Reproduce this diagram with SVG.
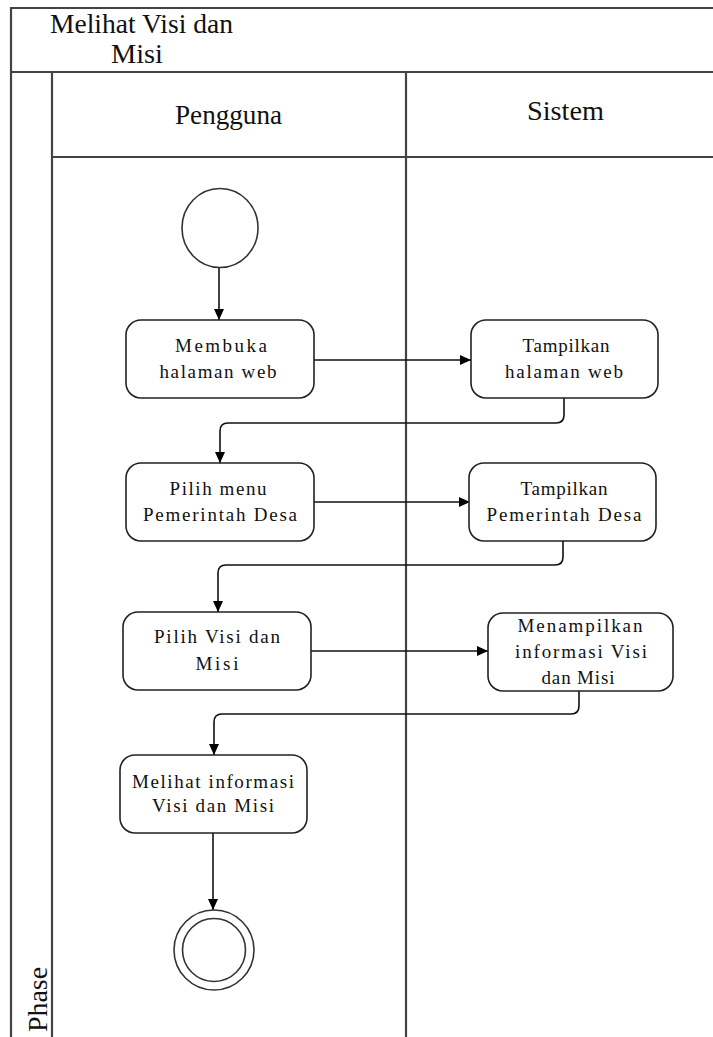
<svg xmlns="http://www.w3.org/2000/svg" width="713" height="1037" viewBox="0 0 713 1037">
<style>
.frame{fill:none;stroke:#444;stroke-width:2.2}
.node rect{fill:#fff;stroke:#222;stroke-width:1.6}
.conn path{fill:none;stroke:#111;stroke-width:1.6;marker-end:url(#arr)}
.ev{fill:#fff;stroke:#333;stroke-width:1.6}
</style>
<defs>
<marker id="arr" markerUnits="userSpaceOnUse" markerWidth="12" markerHeight="10" refX="11" refY="5" orient="auto">
<path d="M0,0 L11,5 L0,10 z" fill="#000"/>
</marker>
</defs>
<rect width="713" height="1037" fill="#fff"/>
<g id="frame">
<path class="frame" d="M11,1037 V8 H713"/>
<path class="frame" d="M11,72 H713"/>
<path class="frame" d="M52,72 V1037"/>
<path class="frame" d="M52,157 H713"/>
<path class="frame" d="M406,72 V1037"/>
</g>
<g id="labels" fill="#111">
<text style="font-family:'Liberation Serif',serif;font-size:27px" x="50" y="33" textLength="183" lengthAdjust="spacingAndGlyphs">Melihat Visi dan</text>
<text style="font-family:'Liberation Serif',serif;font-size:27px" x="111" y="63" textLength="52" lengthAdjust="spacingAndGlyphs">Misi</text>
<text style="font-family:'Liberation Serif',serif;font-size:27px" x="175" y="124" textLength="107" lengthAdjust="spacingAndGlyphs">Pengguna</text>
<text style="font-family:'Liberation Serif',serif;font-size:27px" x="527" y="120" textLength="77" lengthAdjust="spacingAndGlyphs">Sistem</text>
<text style="font-family:'Liberation Serif',serif;font-size:27px" transform="translate(47,1032) rotate(-90)" textLength="65" lengthAdjust="spacingAndGlyphs">Phase</text>
</g>
<g class="conn" id="connectors">
<path d="M219,267 V320"/>
<path d="M314,360 H471"/>
<path d="M564,398 V415 Q564,423 556,423 H228 Q220,423 220,431 V463"/>
<path d="M314,502 H470"/>
<path d="M563,541 V557 Q563,565 555,565 H226 Q218,565 218,573 V612"/>
<path d="M311,651 H488"/>
<path d="M579,691 V706 Q579,714 571,714 H222 Q214,714 214,722 V755"/>
<path d="M213,833 V910"/>
</g>
<g id="start"><ellipse class="ev" cx="220" cy="228" rx="38" ry="39.5"/></g>
<g id="end">
<ellipse class="ev" cx="214" cy="950" rx="40" ry="40"/>
<ellipse class="ev" cx="214" cy="950" rx="31.5" ry="31.5"/>
</g>
<g text-anchor="middle" fill="#111">
<g class="node" id="n1">
<rect x="126" y="320" width="188" height="78" rx="15"/>
<text style="font-family:'Liberation Serif',serif;font-size:19px" x="221" y="352" textLength="92" lengthAdjust="spacing">Membuka</text>
<text style="font-family:'Liberation Serif',serif;font-size:19px" x="218" y="378" textLength="117" lengthAdjust="spacing">halaman web</text>
</g>
<g class="node" id="n2">
<rect x="471" y="320" width="187" height="78" rx="15"/>
<text style="font-family:'Liberation Serif',serif;font-size:19px" x="566" y="352" textLength="87" lengthAdjust="spacing">Tampilkan</text>
<text style="font-family:'Liberation Serif',serif;font-size:19px" x="564" y="378" textLength="118" lengthAdjust="spacing">halaman web</text>
</g>
<g class="node" id="n3">
<rect x="126" y="463" width="188" height="78" rx="15"/>
<text style="font-family:'Liberation Serif',serif;font-size:19px" x="218" y="495" textLength="97" lengthAdjust="spacing">Pilih menu</text>
<text style="font-family:'Liberation Serif',serif;font-size:19px" x="220" y="521" textLength="154" lengthAdjust="spacing">Pemerintah Desa</text>
</g>
<g class="node" id="n4">
<rect x="469" y="463" width="187" height="78" rx="15"/>
<text style="font-family:'Liberation Serif',serif;font-size:19px" x="564" y="495" textLength="87" lengthAdjust="spacing">Tampilkan</text>
<text style="font-family:'Liberation Serif',serif;font-size:19px" x="564" y="521" textLength="155" lengthAdjust="spacing">Pemerintah Desa</text>
</g>
<g class="node" id="n5">
<rect x="123" y="612" width="188" height="78" rx="15"/>
<text style="font-family:'Liberation Serif',serif;font-size:19px" x="217" y="643" textLength="126" lengthAdjust="spacing">Pilih Visi dan</text>
<text style="font-family:'Liberation Serif',serif;font-size:19px" x="217" y="670" textLength="43" lengthAdjust="spacing">Misi</text>
</g>
<g class="node" id="n6">
<rect x="488" y="613" width="185" height="78" rx="15"/>
<text style="font-family:'Liberation Serif',serif;font-size:19px" x="580" y="632" textLength="125" lengthAdjust="spacing">Menampilkan</text>
<text style="font-family:'Liberation Serif',serif;font-size:19px" x="581" y="658" textLength="132" lengthAdjust="spacing">informasi Visi</text>
<text style="font-family:'Liberation Serif',serif;font-size:19px" x="578" y="684" textLength="73" lengthAdjust="spacing">dan Misi</text>
</g>
<g class="node" id="n7">
<rect x="120" y="755" width="187" height="78" rx="15"/>
<text style="font-family:'Liberation Serif',serif;font-size:19px" x="213" y="788" textLength="162" lengthAdjust="spacing">Melihat informasi</text>
<text style="font-family:'Liberation Serif',serif;font-size:19px" x="213" y="812" textLength="122" lengthAdjust="spacing">Visi dan Misi</text>
</g>
</g>
</svg>
